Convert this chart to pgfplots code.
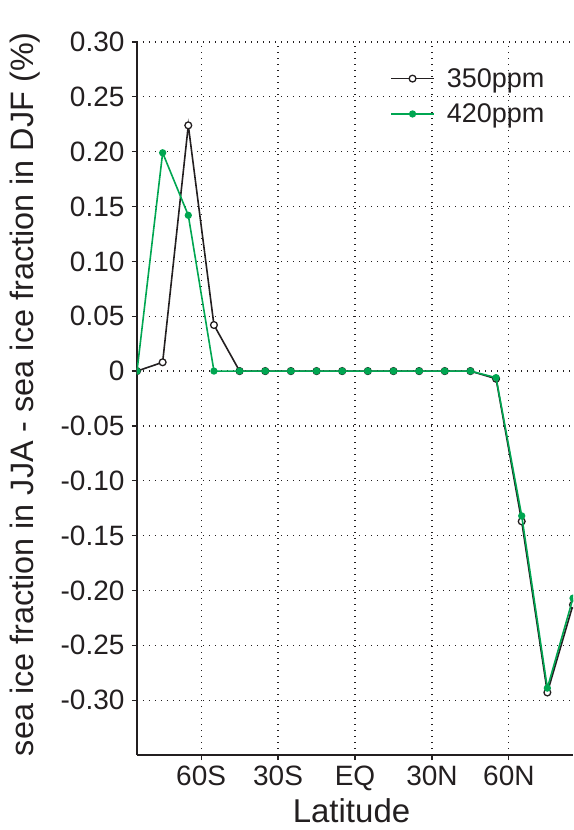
\documentclass[border=0pt]{standalone}
\usepackage{pgfplots}
\pgfplotsset{compat=1.18}
\usepackage{fontspec}
\setmainfont{Liberation Sans}
\usetikzlibrary{calc}
\definecolor{ink}{HTML}{231F20}
\definecolor{grn}{HTML}{00A651}

\begin{document}
\begin{tikzpicture}
\begin{axis}[
    name=ax,
    width=436pt, height=713pt, scale only axis,
    xmin=-85, xmax=85, ymin=-0.35, ymax=0.30,
    axis x line*=bottom, axis y line*=left,
    axis line style={ink, line width=1.6pt},
    xtick={-60,-30,0,30,60},
    xticklabels={60S,30S,EQ,30N,60N},
    ytick={-0.30,-0.25,-0.20,-0.15,-0.10,-0.05,0,0.05,0.10,0.15,0.20,0.25,0.30},
    yticklabels={-0.30,-0.25,-0.20,-0.15,-0.10,-0.05,0,0.05,0.10,0.15,0.20,0.25,0.30},
    tick align=outside, major tick length=5pt,
    tick style={ink, line width=1.2pt},
    grid=major,
    major grid style={ink, line width=1.2pt, dash pattern=on 1.2pt off 4.8pt},
    ticklabel style={font=\fontsize{28}{28}\selectfont, text=ink},
    yticklabel style={xshift=-4pt},
    xticklabel style={yshift=-2pt},
    label style={font=\fontsize{32.4}{32.4}\selectfont, text=ink},
    xlabel={Latitude},
    ylabel={sea ice fraction in JJA - sea ice fraction in DJF (\%)},
    xlabel style={font=\fontsize{33}{33}\selectfont, at={(axis description cs:0.492,-0.094)}, anchor=base},
    ylabel style={at={(axis description cs:-0.238,0.506)}, anchor=base},
    legend style={draw=none, fill=none, at={(rel axis cs:0.5735,0.966)}, anchor=north west,
        font=\fontsize{27}{27}\selectfont, text=ink, column sep=12pt, row sep=15pt,
        nodes={inner sep=0pt}},
    legend cell align=left,
    legend image code/.code={\draw[mark repeat=2,mark phase=2,#1] plot coordinates {(0pt,0pt) (21.5pt,0pt) (43pt,0pt)};},
    clip marker paths=true,
]
\addplot[ink, line width=1.6pt, mark=*, mark size=3.4pt, mark options={fill=white, draw=ink, line width=1.3pt}]
coordinates {
(-85,0) (-75,0.008) (-65,0.224) (-55,0.042) (-45,0) (-35,0) (-25,0) (-15,0) (-5,0)
(5,0) (15,0) (25,0) (35,0) (45,0) (55,-0.007) (65,-0.137) (75,-0.293) (85,-0.213)
};
\addlegendentry{350ppm}
\addplot[grn, line width=1.6pt, mark=*, mark size=2.8pt, mark options={fill=grn, draw=grn}]
coordinates {
(-85,0) (-75,0.199) (-65,0.142) (-55,0) (-45,0) (-35,0) (-25,0) (-15,0) (-5,0)
(5,0) (15,0) (25,0) (35,0) (45,0) (55,-0.006) (65,-0.132) (75,-0.289) (85,-0.207)
};
\addlegendentry{420ppm}
\end{axis}
\pgfresetboundingbox
\path ($(ax.south west)+(-137pt,-75pt)$) rectangle ($(ax.north east)+(0pt,42pt)$);
\end{tikzpicture}
\end{document}
